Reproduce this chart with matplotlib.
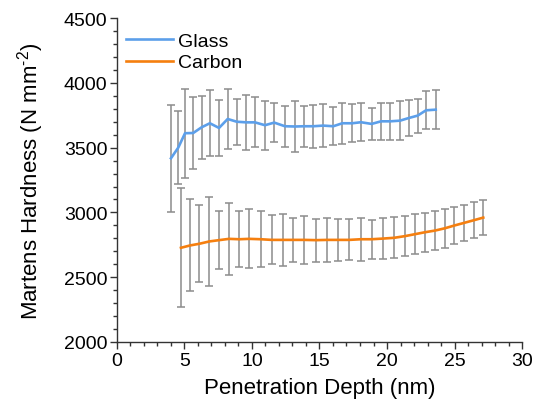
import matplotlib
matplotlib.use("Agg")
import matplotlib.pyplot as plt
from matplotlib.ticker import MultipleLocator

plt.rcParams['font.family'] = ['Liberation Sans', 'DejaVu Sans']
plt.rcParams['mathtext.fontset'] = 'custom'
plt.rcParams['mathtext.rm'] = 'Liberation Sans'

glass_depth = [4.0, 4.54, 5.04, 5.65, 6.27, 6.88, 7.56, 8.20, 8.87, 9.56, 10.22, 10.96,
               11.65, 12.44, 13.19, 13.85, 14.54, 15.28, 16.02, 16.69, 17.43, 18.07,
               18.86, 19.56, 20.24, 20.96, 21.63, 22.27, 22.89, 23.61]
glass_hm = [3418, 3500, 3611, 3613, 3657, 3688, 3652, 3721, 3700, 3695, 3695, 3673,
            3693, 3665, 3663, 3665, 3665, 3670, 3665, 3688, 3688, 3696, 3683, 3703,
            3703, 3708, 3729, 3747, 3788, 3793]
glass_sd = [411, 283, 343, 276, 245, 254, 216, 235, 178, 213, 192, 188, 152, 159, 193,
            158, 166, 164, 148, 159, 145, 145, 126, 142, 142, 149, 138, 131, 146, 148]

carbon_depth = [4.74, 5.41, 6.10, 6.84, 7.56, 8.30, 9.06, 9.80, 10.65, 11.46, 12.27,
                13.06, 13.87, 14.74, 15.58, 16.39, 17.21, 18.05, 18.87, 19.68, 20.52,
                21.33, 22.07, 22.81, 23.56, 24.30, 24.99, 25.70, 26.44, 27.13]
carbon_hm = [2727, 2745, 2758, 2776, 2786, 2796, 2793, 2796, 2793, 2788, 2788, 2788,
             2788, 2786, 2788, 2788, 2788, 2793, 2793, 2798, 2804, 2817, 2832, 2847,
             2860, 2878, 2899, 2919, 2940, 2960]
carbon_sd = [458, 355, 296, 340, 225, 279, 217, 228, 215, 189, 203, 168, 185, 167, 168,
             165, 158, 166, 152, 159, 158, 156, 156, 151, 151, 149, 145, 136, 139, 137]

fig = plt.figure(figsize=(5.39, 4.14), dpi=100)
ax = fig.add_axes([0.217, 0.1715, 0.7515, 0.7825])

ecol = '#8c8c8c'
for x, y, e in [(glass_depth, glass_hm, glass_sd), (carbon_depth, carbon_hm, carbon_sd)]:
    ax.errorbar(x, y, yerr=e, fmt='none', ecolor=ecol, elinewidth=1.1,
                capsize=2.8, capthick=1.1, zorder=2)

ax.plot(glass_depth, glass_hm, color='#5c9fea', lw=1.9, label='Glass', zorder=3)
ax.plot(carbon_depth, carbon_hm, color='#f57f0f', lw=1.9, label='Carbon', zorder=3)

ax.set_xlim(0, 30)
ax.set_ylim(2000, 4500)
ax.xaxis.set_major_locator(MultipleLocator(5))
ax.xaxis.set_minor_locator(MultipleLocator(1))
ax.yaxis.set_major_locator(MultipleLocator(500))
ax.yaxis.set_minor_locator(MultipleLocator(100))
for s in ['top', 'right']:
    ax.spines[s].set_visible(False)
for s in ['left', 'bottom']:
    ax.spines[s].set_color('#333333')
    ax.spines[s].set_linewidth(1.0)
ax.tick_params(which='major', direction='out', length=5, width=1.0, color='#333333',
               labelsize=14, pad=2)
ax.tick_params(which='minor', direction='out', length=3, width=1.0, color='#333333')

ax.set_xlabel('Penetration Depth (nm)', fontsize=16, labelpad=6)
ax.set_ylabel('Martens Hardness (N mm$^{\\text{-2}}$)', fontsize=16, labelpad=13)

leg = ax.legend(loc='upper left', bbox_to_anchor=(0.003, 0.98), frameon=False,
                fontsize=14, handlelength=2.4, handletextpad=0.28,
                labelspacing=0.2, borderaxespad=0.0)

fig.savefig('out.png', dpi=100)
